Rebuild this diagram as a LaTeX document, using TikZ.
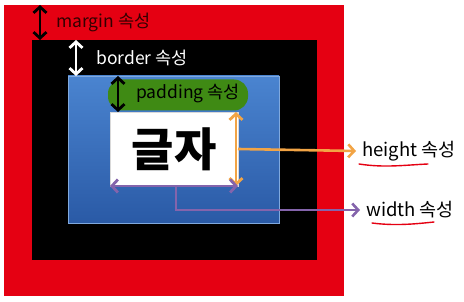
\documentclass[tikz,border=0pt]{standalone}
\usepackage{fontspec}
\setmainfont{Noto Sans CJK KR}
\usetikzlibrary{arrows.meta,positioning,calc}
\definecolor{mred}{HTML}{E50012}
\definecolor{bbluetop}{HTML}{4A84D0}
\definecolor{bbluebot}{HTML}{2A5AA6}
\definecolor{pgreen}{HTML}{3F8A14}
\definecolor{horange}{HTML}{F2A445}
\definecolor{wpurple}{HTML}{8464AC}

\begin{document}
\begin{tikzpicture}[x=1pt,y=-1pt,
  area/.style={inner sep=0pt,outer sep=0pt},
  lbl/.style={font=\fontsize{17.5}{20}\selectfont,inner sep=6pt,anchor=west},
  dbl/.style={{Straight Barb[length=6pt,width=13pt]}-{Straight Barb[length=6pt,width=13pt]},
              line width=2.8pt},
  link/.style={-{Straight Barb[length=6pt,width=13pt]},line width=2.6pt},
  uline/.style={draw=mred,line width=1.4pt,line cap=round}
]
\fill[white] (0,0) rectangle (464,302);
\useasboundingbox (0,0) rectangle (464,302);

\node[area,fill=mred,minimum width=340pt,minimum height=291pt] (margin) at (174,150.5) {};
\node[area,fill=black,minimum width=285pt,minimum height=220pt] (border) at (174.5,150) {};
\node[area,top color=bbluetop,bottom color=bbluebot,draw=bbluetop!70!white,line width=0.6pt,
      minimum width=211pt,minimum height=147pt] (pad) at (173.5,149.5) {};
\node[area,fill=pgreen,rounded corners=14pt,minimum width=140pt,minimum height=31pt] (blob) at (178,95) {};
\node[area,fill=white,draw=black!15,minimum width=128pt,minimum height=74pt,
      font=\fontsize{46}{50}\selectfont\bfseries] (content) at (174,149) {글자};

\node[lbl,text=black!80!red] (mtxt) at (50,22) {margin 속성};
\node[lbl,text=white] (btxt) at (90,58) {border 속성};
\node[lbl] (ptxt) at (130,93) {padding 속성};
\node[lbl,font=\fontsize{18.5}{21}\selectfont] (hgt) at (356,151) {height 속성};
\node[lbl,font=\fontsize{18.5}{21}\selectfont] (wdt) at (360,210) {width 속성};

\draw[dbl,black] (40,0 |- margin.north) -- (40,0 |- border.north);
\draw[dbl,white] (76,0 |- border.north) -- (76,0 |- pad.north);
\draw[dbl,black] (118,0 |- pad.north) -- (118,0 |- content.north);

\draw[dbl,horange] ([xshift=-2pt]content.north east) -- ([xshift=-2pt]content.south east);
\draw[link,horange] (content.east) -- (hgt.west);
\draw[dbl,wpurple] (content.south west) -- (content.south east);
\draw[link,wpurple] (176,0 |- content.south) |- (wdt.west);

\draw[uline] (359,164) .. controls (385,168) and (405,165) .. (428,164);
\draw[uline] (372,223) .. controls (395,226) and (415,224) .. (434,222);
\end{tikzpicture}
\end{document}
